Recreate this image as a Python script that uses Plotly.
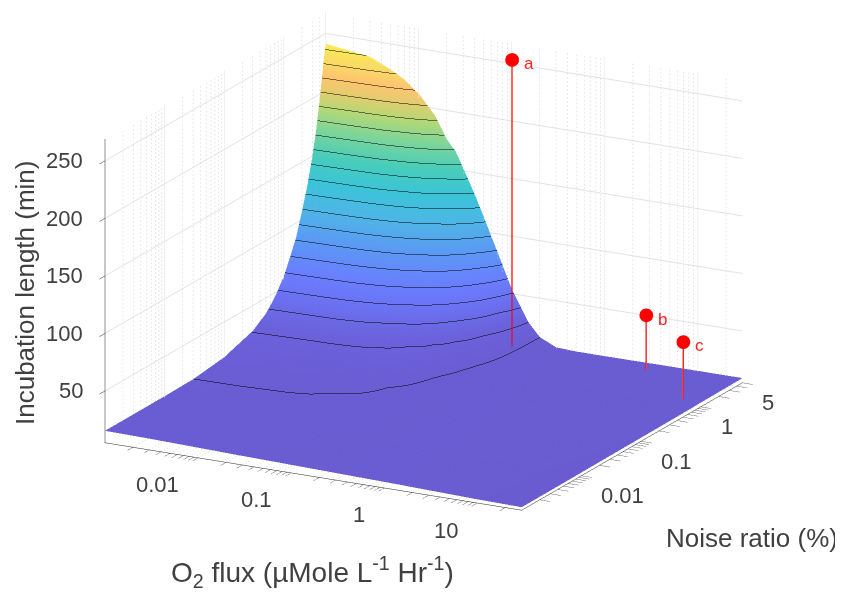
import math
import plotly.graph_objects as go

flux = [0.001, 0.003, 0.005, 0.007, 0.01, 0.015, 0.02, 0.025, 0.03, 0.04, 0.05, 0.07, 0.1, 0.15, 0.2, 0.3, 0.5, 1, 10, 30]
noise = [0.001, 0.01, 0.03, 0.1, 0.2, 0.3, 0.5, 0.7, 1, 1.3, 1.6, 2, 2.5, 3, 3.5, 4, 4.5, 5]

# incubation length (min): one list per flux value, running along noise
length_by_flux = [
    [15.4, 15.5, 15.95, 19.5, 24.9, 28, 36.5, 46.2, 60, 75, 87.5, 107, 128, 150, 172, 197, 221, 241],
    [14.8, 15.1, 15.9, 19.3, 24.5, 27.6, 35.7, 45, 58.4, 72.6, 85, 103.4, 124, 144.8, 166, 189, 212.4, 236],
    [14.4, 14.9, 15.8, 19.2, 24.3, 27.3, 35.3, 44.3, 57.4, 71.1, 83.3, 101.2, 121.5, 141.6, 162.2, 184.5, 207.3, 227.7],
    [14.1, 14.7, 15.75, 19, 24, 27.2, 34.8, 43.2, 56, 69, 81, 98.3, 118.2, 137, 157.3, 178, 200.4, 221],
    [13.8, 14.5, 15.7, 18.8, 23.7, 26.8, 33.9, 41.7, 54, 66.3, 78.1, 94, 113.5, 131, 150, 169.6, 190.8, 210.7],
    [13.5, 14.3, 15.55, 18.3, 23, 26.1, 32.5, 39.2, 50.8, 61.5, 73, 87, 105.6, 122.4, 139.5, 157.3, 175, 194],
    [13.2, 14.2, 15.4, 17.5, 22.2, 25.4, 30.8, 36.4, 46.8, 57, 67.6, 80.7, 97.1, 112.7, 127.2, 143.7, 159.8, 175],
    [13, 14, 15.25, 17.3, 21.6, 24.8, 29.6, 35, 44.5, 54, 62.9, 76, 90.4, 105.6, 120, 134.3, 149, 165.6],
    [12.9, 13.8, 15.1, 17.2, 21.1, 24.2, 28.2, 33.7, 42.2, 51.1, 58.9, 71.6, 84.9, 99, 112.7, 125.6, 139.5, 152.4],
    [12.7, 13.6, 14.9, 16.9, 19.8, 22.9, 26.8, 31, 37.3, 45, 52.4, 61.9, 74.5, 85.4, 97.6, 109.4, 120.7, 131],
    [12.5, 13.5, 14.7, 16.4, 18.9, 21.5, 25.4, 28, 33.7, 39.5, 45.5, 54, 64, 74, 83.3, 93.3, 103.4, 112.7],
    [12.3, 13.3, 14.2, 15.4, 17.7, 19.2, 22.8, 25.3, 28.1, 32.5, 35.9, 42.2, 49.4, 56.4, 63.4, 71.1, 78.1, 84.4],
    [12, 12.8, 13.6, 14.4, 15.6, 16.4, 18.2, 20.7, 23.5, 25.5, 27.1, 29.8, 33.5, 36.5, 41, 45, 49, 54],
    [11.7, 12.3, 12.9, 13.4, 14.2, 14.7, 15.4, 16.3, 17.5, 18.9, 19.9, 21.4, 22.4, 23.8, 24.9, 26, 26.9, 27.7],
    [11.5, 12, 12.5, 12.9, 13.3, 13.6, 14, 14.4, 14.7, 15, 15.2, 15.4, 15.6, 15.7, 15.8, 15.9, 16, 16.2],
    [11.2, 11.1, 11, 11, 10.95, 10.9, 10.8, 10.7, 10.6, 10.5, 10.4, 10.3, 10.2, 10.1, 10, 9.9, 9.8, 9.6],
    [10.8, 10.6, 10.4, 10.3, 10.2, 10.1, 10, 9.9, 9.8, 9.7, 9.6, 9.5, 9.4, 9.3, 9.2, 9.1, 9, 8.8],
    [10.3, 10.1, 10, 9.9, 9.85, 9.8, 9.7, 9.6, 9.5, 9.4, 9.4, 9.3, 9.2, 9.1, 9.1, 9, 8.9, 8.8],
    [8.2, 8.3, 8.4, 8.5, 8.55, 8.6, 8.7, 8.7, 8.8, 8.8, 8.9, 8.9, 8.9, 9, 9, 9, 9.1, 9.1],
    [7.6, 7.8, 8, 8.1, 8.2, 8.3, 8.4, 8.5, 8.6, 8.7, 8.7, 8.8, 8.8, 8.9, 8.9, 9, 9, 9.1],
]

point_names = ["a", "b", "c"]
point_flux = [0.17, 3.6, 19.5]
point_noise = [2.2, 3.34, 1.0]
point_base = [16, 9.3, 9.3]
point_top = [267, 57, 59]

x_major = [0.01, 0.1, 1, 10]
y_major = [0.01, 0.1, 1, 5]
z_major = [50, 100, 150, 200, 250]
x_minor = [0.002, 0.003, 0.004, 0.005, 0.006, 0.007, 0.008, 0.009,
           0.02, 0.03, 0.04, 0.05, 0.06, 0.07, 0.08, 0.09,
           0.2, 0.3, 0.4, 0.5, 0.6, 0.7, 0.8, 0.9,
           2, 3, 4, 5, 6, 7, 8, 9, 20]
y_minor = [0.002, 0.003, 0.004, 0.005, 0.006, 0.007, 0.008, 0.009,
           0.02, 0.03, 0.04, 0.05, 0.06, 0.07, 0.08, 0.09,
           0.2, 0.3, 0.4, 0.5, 0.6, 0.7, 0.8, 0.9,
           2, 3, 4]
x_lo, x_hi = 0.001, 30
y_lo, y_hi = 0.001, 5
z_lo, z_hi = 5, 269

z_matrix = [list(row) for row in zip(*length_by_flux)]

colorscale = [
    [0.00, "#5a49ca"], [0.105, "#5b51d8"], [0.19, "#5b65f4"], [0.25, "#5972ff"],
    [0.34, "#4a8df4"], [0.44, "#3caee5"], [0.53, "#26bed4"], [0.61, "#34c7b5"],
    [0.70, "#6fd18f"], [0.78, "#b0d466"], [0.84, "#e5c660"], [0.886, "#ffbe5e"],
    [0.93, "#fad457"], [1.00, "#f8ec42"],
]

DOT_RUNS = 76
xl0, xl1 = math.log10(x_lo), math.log10(x_hi)
yl0, yl1 = math.log10(y_lo), math.log10(y_hi)


def dotted_trace(xs, ys, color):
    """Fine dotted minor grid on the floor and the two back walls."""
    gx, gy, gz = [], [], []
    for i in range(DOT_RUNS):
        t0, t1 = i / DOT_RUNS, (i + 0.4) / DOT_RUNS
        z0, z1 = z_lo + t0 * (z_hi - z_lo), z_lo + t1 * (z_hi - z_lo)
        for v in xs:
            gx += [v, v, None]
            gy += [y_hi, y_hi, None]
            gz += [z0, z1, None]
        for v in ys:
            gx += [x_lo, x_lo, None]
            gy += [v, v, None]
            gz += [z0, z1, None]
        for v in xs:
            gx += [v, v, None]
            gy += [10 ** (yl0 + t0 * (yl1 - yl0)), 10 ** (yl0 + t1 * (yl1 - yl0)), None]
            gz += [z_lo, z_lo, None]
        for v in ys:
            gx += [10 ** (xl0 + t0 * (xl1 - xl0)), 10 ** (xl0 + t1 * (xl1 - xl0)), None]
            gy += [v, v, None]
            gz += [z_lo, z_lo, None]
    return go.Scatter3d(x=gx, y=gy, z=gz, mode="lines", hoverinfo="skip", showlegend=False,
                        line=dict(color=color, width=1))


def grid_trace(xs, ys, color):
    gx, gy, gz = [], [], []
    for v in xs:
        gx += [v, v, v, None]
        gy += [y_lo, y_hi, y_hi, None]
        gz += [z_lo, z_lo, z_hi, None]
    for v in ys:
        gx += [x_hi, x_lo, x_lo, None]
        gy += [v, v, v, None]
        gz += [z_lo, z_lo, z_hi, None]
    return go.Scatter3d(x=gx, y=gy, z=gz, mode="lines", hoverinfo="skip", showlegend=False,
                        line=dict(color=color, width=1))


fig = go.Figure()
fig.add_trace(dotted_trace(x_minor, y_minor, "#cccccc"))
fig.add_trace(grid_trace(x_major, y_major, "#e2e2e2"))

fig.add_trace(go.Surface(
    x=flux, y=noise, z=z_matrix, cmin=5, cmax=242, colorscale=colorscale, showscale=False,
    opacity=0.9, hoverinfo="skip",
    lighting=dict(ambient=1, diffuse=0, specular=0, roughness=1, fresnel=0),
    contours=dict(
        x=dict(highlight=False), y=dict(highlight=False),
        z=dict(show=True, start=16, end=237, size=11.6, color="black", width=3, highlight=False),
    ),
))

for fx, ny, lo, hi in zip(point_flux, point_noise, point_base, point_top):
    fig.add_trace(go.Scatter3d(x=[fx, fx], y=[ny, ny], z=[lo, hi], mode="lines", hoverinfo="skip",
                               showlegend=False, line=dict(color="#ff0000", width=2.5)))
    fig.add_trace(go.Scatter3d(x=[fx], y=[ny], z=[hi], mode="markers", hoverinfo="skip",
                               showlegend=False, marker=dict(color="#ff0000", size=8, line=dict(width=0))))


def label(x, y, z, text, xanchor, xshift, yshift, size=22, color="#404040"):
    return dict(x=x, y=y, z=z, text=text, showarrow=False, xanchor=xanchor, yanchor="middle",
                xshift=xshift, yshift=yshift, font=dict(family="Liberation Sans", size=size, color=color))


scene_labels = []
for v in x_major:
    scene_labels.append(label(math.log10(v), yl0, z_lo, str(v), "right", -17, -27))
for v in y_major:
    scene_labels.append(label(xl1, math.log10(v), z_lo, str(v), "left", 18, -20))
for v in z_major:
    scene_labels.append(label(xl0, yl0, v, str(v), "right", -20, 0))
for name, fx, ny, hi in zip(point_names, point_flux, point_noise, point_top):
    scene_labels.append(label(math.log10(fx), math.log10(ny), hi, name, "left", 10, -4, size=17, color="#ff2020"))


def log_axis(major, minor, lo_hi):
    vals = sorted(major + minor)
    return dict(type="log", range=lo_hi, tickmode="array", tickvals=vals, ticktext=[" "] * len(vals),
                showgrid=False, zeroline=False, showbackground=False, showline=True,
                linecolor="#262626", linewidth=1, ticks="outside", ticklen=12, tickcolor="#262626",
                tickangle=0, tickfont=dict(size=1), title=dict(text=""), showspikes=False)


fig.update_layout(
    width=843, height=592, margin=dict(l=0, r=0, t=0, b=0), paper_bgcolor="white",
    font=dict(family="Liberation Sans", color="#404040"), showlegend=False,
    scene=dict(
        domain=dict(x=[0, 1], y=[0, 1]),
        xaxis=log_axis(x_major, x_minor, [xl0, xl1]),
        yaxis=log_axis(y_major, y_minor, [yl0, yl1]),
        zaxis=dict(range=[z_lo, z_hi], tickmode="array", tickvals=z_major,
                   ticktext=[" "] * len(z_major), showgrid=True, gridcolor="#e2e2e2",
                   zeroline=False, showbackground=False, showline=True, linecolor="#262626",
                   ticks="outside", ticklen=12, tickcolor="#262626", tickangle=0, tickfont=dict(size=1),
                   title=dict(text=""), showspikes=False),
        aspectmode="manual", aspectratio=dict(x=1.593, y=1.593, z=1.078),
        camera=dict(projection=dict(type="orthographic"),
                    eye=dict(x=0.5755, y=-1.045, z=0.23),
                    center=dict(x=0.0175, y=0.009, z=-0.153), up=dict(x=0, y=0, z=1)),
        annotations=scene_labels,
    ),
    annotations=[
        dict(text="O<sub>2</sub> flux (µMole L<sup>-1</sup> Hr<sup>-1</sup>)", x=304 / 843, y=1 - 564 / 592,
             xref="paper", yref="paper", xanchor="center", yanchor="middle", showarrow=False,
             font=dict(size=28, family="Liberation Sans", color="#404040")),
        dict(text="Noise ratio (%)", x=744 / 843, y=1 - 530 / 592, xref="paper", yref="paper",
             xanchor="center", yanchor="middle", showarrow=False,
             font=dict(size=26, family="Liberation Sans", color="#404040")),
        dict(text="Incubation length (min)", x=17 / 843, y=1 - 285 / 592, xref="paper", yref="paper",
             xanchor="center", yanchor="middle", showarrow=False, textangle=-90,
             font=dict(size=26, family="Liberation Sans", color="#404040")),
    ],
)

fig.write_html("out.html")
